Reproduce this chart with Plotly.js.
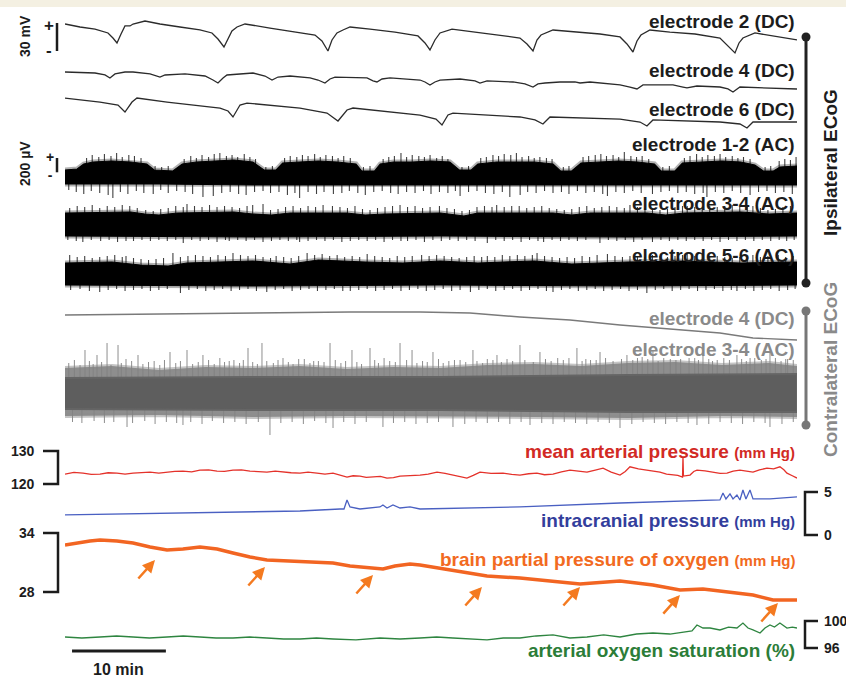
<!DOCTYPE html>
<html><head><meta charset="utf-8">
<script src="https://cdn.plot.ly/plotly-3.0.1.min.js"></script>
<style>html,body{margin:0;padding:0;background:#fff}#chart{width:846px;height:678px}</style>
</head><body><div id="chart"></div><script>
// ---------- DATA (time in minutes) ----------
// Ipsilateral DC (mV, relative)
const e2T=[0,1.6,3.2,4.58,5.11,5.54,5.97,6.39,6.93,7.25,8.52,10.12,12.25,14.38,15.66,16.3,16.94,17.37,17.79,18.33,19.18,21.84,24.51,26.64,27.38,28.02,28.45,28.98,29.62,30.37,32.5,35.16,37.61,38.36,38.89,39.42,39.96,41.24,43.69,46.35,48.48,49.23,49.87,50.29,50.72,52.0,54.34,57.01,59.14,59.88,60.52,60.95,61.37,62.33,64.46,67.13,69.79,70.64,71.39,71.82,72.24,73.52,75.65,78];
const e2V=[0,-3.2,-5.4,-9.6,-15.0,-20.3,-10.7,-2.1,-2.1,0,3.2,0,-3.2,-6.4,-9.6,-16.1,-24.6,-15.0,-7.5,-3.2,0,-4.3,-8.6,-11.8,-18.2,-28.9,-17.1,-9.6,-6.4,-3.2,-5.4,-8.6,-12.8,-20.3,-27.8,-17.1,-9.6,-5.4,-8.6,-11.8,-15.0,-21.4,-28.9,-17.1,-11.8,-6.4,-8.6,-10.7,-13.9,-21.4,-30.0,-18.2,-11.8,-6.4,-8.6,-10.7,-15.0,-23.5,-31.0,-20.3,-15.0,-9.6,-12.8,-17.1];
const e4T=[0,3.2,4.26,4.79,5.33,6.39,7.25,9.06,10.12,10.66,12.79,14.92,15.77,16.3,16.84,17.26,20.03,21.31,22.06,22.7,23.98,26.11,26.96,27.7,28.24,28.77,32.18,32.82,33.24,33.78,34.63,37.83,38.36,38.89,39.42,39.96,42.09,43.69,44.22,44.97,47.74,49.01,49.87,50.4,51.15,52.74,54.34,54.88,55.94,59.14,60.2,60.95,61.59,64.78,65.85,66.28,67.34,69.79,70.64,71.18,71.92,75.12,78];
const e4V=[0,-1.1,-3.2,-6.4,-2.1,0,0,-2.1,-5.4,-3.2,-2.1,-4.3,-8.6,-11.8,-6.4,-3.2,-1.1,-4.3,-8.6,-5.4,-4.3,-6.4,-8.6,-11.8,-7.5,-5.4,-6.4,-9.6,-10.7,-7.5,-6.4,-8.6,-10.7,-13.9,-10.7,-8.6,-7.5,-9.6,-11.8,-9.6,-10.7,-12.8,-16.1,-12.8,-11.8,-10.7,-10.7,-11.8,-10.7,-13.9,-16.1,-18.2,-13.9,-13.9,-16.1,-17.1,-15.0,-16.1,-18.2,-21.4,-16.1,-17.1,-18.2];
const e6T=[0,3.73,5.65,6.39,7.14,7.67,10.87,16.52,17.37,17.9,18.65,19.39,25.04,27.92,29.09,30.05,30.69,37.83,39.53,40.17,40.81,41.34,48.48,50.08,50.93,51.68,59.14,61.27,62.01,62.65,69.79,71.92,72.67,73.31,78];
const e6V=[0,-4.3,-7.5,-15.0,-4.3,0,-4.3,-10.7,-13.9,-20.3,-7.5,-5.4,-10.7,-16.1,-24.6,-12.8,-10.7,-18.2,-22.5,-28.9,-18.2,-16.1,-20.3,-23.5,-27.8,-20.3,-22.5,-25.7,-30.0,-23.5,-25.7,-27.8,-32.1,-25.7,-25.7];

// Ipsilateral AC (µV): envelope of the dense trace, plus [time, tip] of the excursions beyond it
const a12TopT=[0,1.3,2,3,5,7,8.7,9.5,11.5,12.5,14,16,18,20,21.2,22.5,23.2,25,27,29,31,31.6,33,33.6,35,37,39,41,42,43.3,44,46,48,50,52,52.8,54,55,57,59,61,62.8,63.5,65,65.8,68,70,72,73.5,74.4,75.5,76.2,78];
const a12Top=[84,98,168,196,210,196,168,84,70,168,196,210,224,196,84,84,182,196,210,196,168,70,70,168,196,196,210,196,84,84,168,196,196,196,168,70,70,182,196,210,196,168,70,70,182,196,210,196,154,70,70,126,140];
const a12BotT=[0,10,20,30,40,50,60,70,78];
const a12Bot=[-112,-112,-126,-126,-126,-126,-126,-126,-126];
const a12Up=[[2.3,252],[2.9,294],[3.6,266],[4.2,308],[4.9,280],[5.5,322],[6.1,266],[6.8,294],[7.4,280],[8.1,252],[9.6,140],[10.3,126],[11.0,140],
 [12.7,238],[13.4,280],[14.0,252],[14.6,294],[15.3,266],[15.9,308],[16.5,322],[17.2,280],[17.8,294],[18.4,266],[19.1,308],[19.7,266],[20.3,238],[21.4,126],[22.1,140],
 [23.4,252],[24.0,280],[24.7,266],[25.3,294],[25.9,280],[26.6,308],[27.2,266],[27.8,294],[28.5,280],[29.1,252],[29.7,280],[30.4,252],[31.8,126],[32.5,140],
 [33.9,238],[34.5,266],[35.1,280],[35.8,322],[36.4,266],[37.0,294],[37.7,280],[38.3,266],[38.9,294],[39.6,252],[40.2,280],[40.8,238],[42.3,126],[43.0,140],
 [44.3,252],[44.9,266],[45.6,294],[46.2,280],[46.8,308],[47.5,294],[48.1,322],[48.7,266],[49.4,280],[50.0,252],[50.6,266],[51.3,252],[51.9,238],[53.1,126],[53.7,140],
 [55.2,266],[55.8,280],[56.5,294],[57.1,308],[57.7,280],[58.4,294],[59.0,266],[59.6,336],[60.3,280],[60.9,266],[61.5,280],[62.2,238],[63.7,126],[64.4,140],
 [66.0,252],[66.6,280],[67.3,308],[67.9,266],[68.5,294],[69.2,280],[69.8,308],[70.4,266],[71.1,280],[71.7,252],[72.3,266],[73.0,238],[74.6,126],[75.2,140],
 [76.1,210],[76.7,238],[77.3,224],[77.9,266]];
const a12Dn=[[0.4,-196],[1.2,-224],[2.0,-252],[2.8,-210],[3.7,-238],[4.6,-266],[5.1,-308],[5.9,-224],[6.7,-252],[7.6,-210],[8.4,-238],[9.4,-252],[10.2,-196],[11.0,-238],[11.9,-210],
 [12.8,-224],[13.6,-252],[14.7,-294],[15.8,-280],[16.7,-238],[17.6,-224],[18.5,-252],[19.3,-266],[20.2,-224],[21.1,-210],[21.9,-238],[22.8,-224],[23.7,-266],[24.5,-238],[25.0,-308],
 [25.9,-224],[26.8,-252],[27.6,-224],[28.6,-252],[29.5,-238],[30.3,-210],[31.2,-238],[32.0,-266],[32.9,-224],[33.8,-210],[34.7,-238],[35.5,-252],[36.4,-224],[37.3,-238],[38.2,-210],
 [39.0,-252],[39.9,-224],[40.8,-238],[41.6,-210],[42.1,-280],[43.0,-224],[43.9,-210],[44.8,-238],[45.7,-252],[46.6,-224],[47.4,-294],[48.5,-266],[49.3,-224],[50.2,-238],[51.1,-210],
 [52.0,-238],[52.9,-224],[53.7,-252],[54.6,-210],[55.5,-238],[56.4,-224],[57.3,-252],[57.8,-280],[58.7,-224],[59.6,-238],[60.5,-210],[61.4,-238],[62.6,-252],[63.5,-224],[64.4,-210],
 [65.3,-238],[66.2,-224],[67.1,-252],[68.0,-238],[68.4,-294],[69.3,-224],[70.2,-238],[71.1,-210],[72.0,-238],[73.0,-266],[73.9,-224],[74.8,-210],[75.7,-238],[76.6,-224],[77.5,-252]];

const a34TopT=[0,7,8.5,10,12,18,20,22,24,30,32,34,40,42.5,44,52,54,56,62,64,66,72,75,78];
const a34Top=[154,168,140,126,154,168,140,126,154,154,126,140,154,112,154,154,126,154,154,126,154,168,140,154];
const a34BotT=[0,20,40,60,78];
const a34Bot=[-168,-182,-168,-182,-168];
const a34Up=[[0.5,224],[1.3,252],[2.1,238],[2.9,266],[3.7,224],[4.5,252],[5.3,238],[6.1,266],[6.9,252],[7.7,224],[8.6,196],[9.4,182],[10.2,210],[11.0,224],[11.8,252],[12.6,238],[13.0,280],
 [13.8,252],[14.6,238],[15.4,266],[16.2,238],[17.0,252],[17.8,238],[18.6,224],[19.4,252],[20.0,266],[21.1,280],[21.9,196],[22.7,210],[23.5,238],[24.3,252],[25.1,224],[25.9,252],
 [26.7,238],[27.5,266],[28.5,252],[29.3,238],[30.1,224],[30.9,252],[31.7,210],[32.5,196],[33.3,224],[34.1,238],[34.9,252],[35.7,266],[36.5,238],[37.3,252],[38.1,224],[38.9,238],
 [39.9,252],[40.7,224],[41.5,210],[42.3,182],[43.1,196],[43.9,238],[44.7,252],[45.5,238],[46.0,266],[46.8,238],[47.6,252],[48.4,252],[49.2,224],[50.0,238],[50.8,252],[51.6,224],
 [52.4,210],[53.2,196],[54.0,210],[54.8,238],[55.6,252],[56.4,224],[57.2,238],[58.0,252],[58.8,238],[59.6,224],[60.2,266],[61.0,238],[61.8,224],[62.6,210],[63.4,196],[64.2,210],
 [65.0,238],[65.8,252],[66.3,252],[67.1,238],[67.9,224],[68.7,252],[69.5,238],[70.3,252],[71.1,266],[71.9,238],[72.7,252],[73.3,252],[74.1,224],[74.9,196],[75.7,210],[76.5,238],[77.3,252]];
const a34Dn=[[0.3,-224],[1.2,-238],[1.9,-252],[2.8,-224],[3.8,-238],[4.7,-224],[5.6,-252],[6.5,-238],[7.3,-238],[8.2,-224],[9.1,-238],[10.0,-224],[10.9,-238],[11.8,-224],[12.6,-266],
 [13.5,-224],[14.4,-238],[15.3,-224],[16.2,-252],[17.1,-224],[17.5,-238],[18.4,-224],[19.3,-238],[20.2,-224],[21.1,-252],[22.0,-238],[22.9,-224],[23.8,-238],[24.7,-224],[25.0,-252],
 [25.9,-238],[26.8,-224],[27.7,-238],[28.6,-224],[29.5,-252],[30.4,-238],[31.3,-224],[32.2,-238],[33.1,-224],[34.0,-252],[34.9,-224],[35.8,-238],[36.5,-238],[37.4,-224],[38.3,-252],
 [39.2,-224],[40.1,-238],[41.0,-224],[41.9,-238],[42.8,-224],[43.7,-238],[45.0,-266],[45.9,-224],[46.8,-238],[47.7,-224],[48.6,-252],[49.5,-224],[50.4,-238],[51.0,-252],[51.9,-224],
 [52.8,-238],[53.7,-224],[54.6,-238],[55.5,-224],[57.0,-266],[57.9,-224],[58.8,-238],[59.7,-224],[60.6,-252],[61.5,-224],[62.6,-252],[63.5,-224],[64.4,-238],[65.3,-224],[66.2,-238],
 [67.1,-224],[68.0,-238],[68.9,-224],[69.8,-252],[70.7,-224],[71.6,-238],[72.5,-224],[73.4,-238],[74.3,-224],[75.2,-238],[76.1,-224],[76.9,-238],[77.7,-224]];

const a56TopT=[0,5,8,11,13,20,24,27,32,36,40,44,50,54,60,66,72,78];
const a56Top=[154,168,126,112,154,182,140,196,168,154,182,154,182,140,168,182,154,168];
const a56BotT=[0,20,40,60,78];
const a56Bot=[-154,-168,-154,-168,-154];
const a56Up=[[0.5,266],[1.3,238],[2.1,252],[2.9,224],[3.7,238],[4.5,252],[5.3,266],[6.1,238],[6.5,252],[7.3,224],[8.1,210],[8.9,196],[9.7,210],[10.5,224],[11.5,294],[12.3,238],
 [13.1,252],[13.9,266],[14.7,252],[15.5,238],[16.3,266],[17.1,252],[17.9,294],[18.7,266],[19.5,252],[20.3,266],[21.1,238],[21.9,224],[22.5,252],[23.3,238],[24.1,224],[24.9,252],
 [25.8,294],[26.6,266],[27.4,280],[28.2,252],[29.0,266],[29.8,238],[30.6,252],[31.4,238],[32.2,280],[33.0,252],[33.8,238],[34.6,224],[35.4,252],[36.2,238],[37.0,252],[38.0,266],
 [38.8,252],[39.6,266],[40.4,252],[41.2,238],[42.0,224],[42.8,238],[43.6,252],[44.4,238],[45.0,252],[45.8,238],[46.6,266],[47.4,252],[48.2,266],[49.0,252],[49.8,266],[50.3,294],
 [51.1,252],[51.9,238],[52.7,224],[53.5,238],[54.3,224],[55.1,252],[55.9,238],[56.7,266],[57.8,280],[58.6,252],[59.4,238],[60.2,252],[61.0,252],[61.8,238],[62.6,266],[63.4,252],
 [64.2,238],[65.0,252],[65.8,266],[66.3,280],[67.1,252],[67.9,266],[68.7,238],[69.5,252],[70.3,238],[71.1,224],[71.9,238],[72.7,252],[73.3,266],[74.1,238],[74.9,252],[76.0,266],[76.8,238],[77.6,252]];
const a56Dn=[[0.6,-224],[1.6,-210],[2.6,-238],[3.7,-252],[4.6,-224],[5.5,-210],[6.4,-238],[7.3,-224],[8.2,-210],[9.1,-238],[10.0,-224],[10.9,-210],[12.3,-266],[13.2,-224],[14.1,-210],
 [15.0,-238],[15.9,-224],[16.8,-210],[17.7,-238],[18.6,-224],[19.5,-210],[20.4,-238],[21.5,-252],[22.4,-224],[23.3,-210],[24.2,-238],[25.1,-224],[26.0,-210],[26.9,-238],[27.8,-224],
 [28.7,-210],[29.6,-238],[30.4,-238],[31.3,-224],[32.2,-210],[33.1,-238],[34.0,-224],[34.9,-210],[35.8,-238],[36.7,-224],[37.6,-210],[38.5,-238],[39.4,-224],[40.3,-210],[41.2,-238],
 [42.1,-224],[43.2,-252],[44.1,-224],[45.0,-210],[45.9,-238],[46.8,-224],[47.7,-210],[48.6,-238],[49.5,-224],[50.4,-210],[51.3,-238],[52.0,-252],[52.9,-224],[53.8,-210],[54.7,-238],
 [55.6,-224],[56.5,-210],[57.4,-238],[58.3,-224],[59.2,-210],[60.1,-238],[61.0,-224],[62.0,-266],[62.9,-224],[63.8,-210],[64.7,-238],[65.6,-224],[66.5,-210],[67.4,-238],[68.3,-224],
 [69.2,-210],[70.1,-238],[71.0,-224],[71.6,-238],[72.5,-210],[73.4,-238],[74.3,-224],[75.2,-210],[76.1,-238],[77.0,-224],[77.8,-210]];

// Contralateral
const cDcT=[0,9.06,19.71,30.37,37.83,43.15,48.48,53.81,59.14,64.46,69.79,73.31,75.65,78];
const cDcV=[0,1.1,2.1,3.2,3.2,2.1,-2.1,-5.4,-10.7,-15.0,-19.3,-24.6,-25.7,-26.8];
const cAcCoreT=[0,20,40,60,78];
const cAcCoreTop=[224,238,238,266,280];
const cAcCoreBot=[-210,-224,-224,-252,-252];
const cAcFuzzTopT=[0,5,10,15,20,25,30,35,40,45,50,55,60,65,70,75,78];
const cAcFuzzTop=[364,392,336,378,364,392,350,378,364,406,420,392,434,448,406,434,392];
const cAcFuzzBotT=[0,10,20,30,40,50,60,70,78];
const cAcFuzzBot=[-308,-294,-322,-308,-308,-322,-336,-308,-322];
const cAcUp=[[2.13,616],[3.41,546],[4.48,714],[5.65,686],[7.78,546],[11.19,588],[13.0,616],[14.7,546],[19.5,644],[20.99,714],[23.23,504],[28.24,714],[30.58,616],[32.5,644],
 [35.7,714],[36.98,616],[39.21,588],[43.47,616],[46.03,546],[48.48,686],[50.61,588],[54.55,644],[57.01,588],[59.88,546],[62.65,616],[67.98,574],[71.6,546],[75.12,588],
 [1.0,476],[6.5,490],[9.5,462],[16.5,504],[18.0,476],[25.5,490],[27.0,462],[34.0,504],[41.5,476],[45.0,490],[52.5,504],[56.0,476],[61.5,518],[64.5,490],[66.5,504],[69.5,476],[73.5,504],[77.0,490],
 [0.4,434],[1.6,406],[2.6,462],[3.0,420],[3.9,448],[4.9,406],[6.0,434],[7.1,462],[8.3,420],[8.9,448],[10.1,406],[10.6,476],[11.8,434],[12.3,462],[13.6,420],[14.2,448],[15.3,476],
 [15.9,420],[17.0,448],[17.5,462],[18.6,434],[19.0,476],[20.0,448],[20.5,420],[21.5,462],[22.2,434],[22.7,476],[23.8,448],[24.3,420],[24.9,490],[26.1,434],[26.5,462],[27.6,448],
 [28.8,476],[29.4,434],[29.9,462],[31.1,448],[31.6,420],[33.0,476],[33.4,434],[34.6,462],[35.2,448],[36.4,476],[37.5,434],[38.1,462],[38.6,448],[39.8,490],[40.3,434],[40.9,462],
 [42.1,476],[42.7,448],[43.9,462],[44.5,434],[45.6,476],[46.5,448],[47.1,490],[47.7,462],[49.0,476],[49.9,448],[51.2,490],[51.8,462],[53.1,476],[53.7,504],[55.1,462],[55.5,490],
 [56.6,476],[57.6,504],[58.4,462],[59.3,490],[60.5,476],[61.0,504],[62.1,490],[63.2,462],[63.8,504],[65.1,476],[65.6,490],[67.1,504],[67.5,476],[68.6,490],[69.0,462],[70.2,504],
 [70.8,476],[72.1,490],[72.6,462],[73.0,504],[74.2,476],[74.7,490],[75.7,504],[76.3,462],[76.8,490],[77.6,476]];
const cAcDn=[[6.61,-462],[12.57,-434],[21.84,-574],[28.56,-476],[33.88,-462],[41.34,-462],[49.55,-434],[59.14,-476],[67.34,-434],[75.12,-462],
 [0.8,-392],[1.8,-406],[3.1,-378],[4.2,-406],[5.2,-392],[7.2,-406],[8.5,-378],[9.6,-420],[10.8,-392],[11.9,-406],[13.4,-392],[14.6,-420],[15.7,-378],[16.9,-406],[18.1,-392],
 [19.3,-420],[20.6,-392],[23.0,-406],[24.2,-392],[25.4,-420],[26.6,-378],[27.8,-406],[29.7,-392],[30.9,-420],[32.1,-392],[35.0,-406],[36.2,-392],[37.4,-420],[38.6,-406],[39.8,-392],
 [42.6,-420],[43.8,-392],[45.0,-406],[46.2,-392],[47.4,-420],[48.6,-392],[50.8,-406],[52.0,-420],[53.2,-392],[54.4,-406],[55.6,-420],[56.8,-392],[58.0,-406],[60.4,-420],[61.6,-392],
 [62.8,-406],[64.0,-420],[65.2,-392],[66.4,-406],[68.6,-420],[69.8,-392],[71.0,-406],[72.2,-420],[73.4,-392],[74.6,-406],[76.4,-420],[77.6,-392]];

// Systemic / tissue variables: [minute, value]
const mapData=[[0,123.0],[0.95,123.5],[1.92,123.3],[2.8,122.9],[3.73,123.0],[4.6,123.4],[5.54,123.3],[6.4,123.0],[7.25,123.3],[8.1,123.5],[9.06,123.6],[10.0,123.3],[10.87,123.6],[11.7,123.8],
 [12.57,123.9],[13.5,123.7],[14.38,124.2],[15.3,124.3],[16.2,123.9],[17.0,123.8],[17.9,124.2],[18.8,124.3],[19.71,123.9],[20.6,123.7],[21.52,123.6],[22.4,123.9],[23.23,123.6],[24.1,123.4],
 [25.04,123.3],[25.9,123.6],[26.85,123.3],[27.7,123.0],[28.56,123.3],[29.3,122.8],[30.05,122.1],[30.7,122.5],[31.43,122.4],[32.1,122.0],[32.82,122.1],[33.6,122.3],[34.31,121.8],[35.0,121.9],
 [35.7,122.4],[36.8,122.5],[37.83,122.7],[38.7,123.0],[39.64,123.6],[40.5,123.2],[41.34,122.7],[42.1,122.3],[42.83,121.8],[43.5,122.6],[44.22,123.6],[45.4,123.2],[46.67,123.3],[47.6,122.9],
 [48.48,122.7],[49.4,123.1],[50.29,123.3],[51.1,122.8],[52.0,123.0],[52.9,123.7],[53.81,124.2],[54.7,123.9],[55.62,123.6],[56.5,124.2],[57.33,124.8],[58.2,123.6],[59.14,122.7],[59.7,123.8],
 [60.2,125.2],[61.1,124.6],[62.01,124.2],[62.7,123.9],[63.4,123.6],[64.1,123.0],[64.78,122.7],[65.3,122.6],[65.8,122.1],[65.85,128.2],[65.9,122.4],[66.6,122.7],[67.0,123.8],[67.34,124.2],
 [68.2,124.0],[69.05,123.6],[69.8,123.2],[70.54,123.3],[71.2,123.9],[71.92,124.2],[72.6,123.8],[73.31,123.6],[74.0,124.3],[74.8,124.8],[75.5,124.6],[76.18,125.2],[76.6,124.3],[76.93,123.3],
 [77.5,122.5],[78.0,121.8]];
const icpT=[0,7.25,17.9,25.04,29.3,29.73,30.05,30.37,31.43,32.82,33.56,33.88,34.31,34.95,35.7,36.76,37.83,48.48,59.14,69.79,70.11,70.43,70.86,71.18,71.6,71.92,72.24,72.56,72.99,73.31,75.12,78];
const icpV=[2.33,2.44,2.67,2.79,3.02,3.02,4.07,3.26,3.02,3.14,3.26,3.49,3.14,3.49,3.14,3.26,3.02,3.26,3.72,4.07,4.88,4.19,4.77,4.19,4.65,4.07,5.23,4.19,5.23,4.19,4.19,4.42];
const pbtT=[0,1.07,2.66,3.73,5.54,7.25,9.06,10.87,12.57,14.38,16.2,17.9,19.71,21.52,23.44,25.04,28.56,30.37,32.18,33.88,35.16,36.76,37.83,40.49,42.62,44.97,48.48,52.0,54.88,56.26,59.14,62.65,65.53,67.98,70.86,73.31,75.44,78];
const pbtV=[32.78,32.98,33.19,33.29,33.19,32.98,32.58,32.27,32.37,32.58,32.37,31.97,31.56,31.25,31.15,31.05,30.95,30.64,30.44,30.34,30.64,30.85,30.74,30.34,29.93,29.63,29.42,29.12,28.81,28.91,29.12,28.71,28.2,28.3,28.0,27.69,27.18,27.18];
const arrowT=[9.59,21.31,32.82,44.43,54.88,65.53,75.97];
const arrowV=[31.25,30.54,29.73,28.51,28.51,27.69,26.88];
const saData=[[0,97.63],[1.8,97.48],[3.73,97.63],[5.5,97.78],[7.25,97.63],[9.0,97.48],[10.87,97.63],[12.6,97.78],[14.38,97.63],[16.1,97.48],[17.9,97.48],[19.7,97.63],[21.52,97.48],
 [23.3,97.33],[25.04,97.33],[26.8,97.48],[28.56,97.33],[31.0,97.19],[33.56,97.48],[35.7,97.33],[37.83,97.48],[39.6,97.63],[41.34,97.48],[43.1,97.33],[44.97,97.19],[46.7,97.48],
 [48.48,97.48],[50.2,97.78],[52.0,97.93],[53.8,97.48],[55.62,97.63],[57.4,97.93],[59.14,97.63],[60.9,98.07],[62.65,98.22],[64.46,98.07],[66.28,98.37],[66.81,98.52],[67.34,99.41],
 [67.98,98.96],[68.73,98.96],[69.79,98.67],[70.7,99.1],[71.6,98.96],[72.24,99.7],[72.78,98.96],[73.31,98.67],[74.06,98.22],[74.59,98.96],[75.12,99.41],[75.6,99.1],[76.18,99.7],
 [76.93,98.96],[77.5,99.1],[78,98.96]];

const scaleBarMin=10;

// ---------- LAYOUT HELPERS ----------
const W=846,H=678,L=65,R=797;
const xp=px=>(px-L)/(R-L);
const yp=py=>1-py/H;
const FONT='"Liberation Sans", Arial, Helvetica, sans-serif';
const col=(a,i)=>a.map(p=>p[i]);
function yax(top,bot,lo,hi){return {domain:[yp(bot),yp(top)],range:[lo,hi],visible:false,fixedrange:true,anchor:'x'};}
function line(x,y,ax,color,width){return {type:'scatter',mode:'lines',x:x,y:y,xaxis:'x',yaxis:ax,line:{color:color,width:width},hoverinfo:'skip',showlegend:false};}
function band(tT,top,bT,bot,ax,fill,lc,lw){
  const tr=line(tT.concat(bT.slice().reverse()),top.concat(bot.slice().reverse()),ax,lc,lw);
  tr.fill='toself';tr.fillcolor=fill;return tr;}
function peaks(list,ax,color,w){const x=[],y=[];list.forEach(p=>{x.push(p[0],p[0],null);y.push(0,p[1],null);});return line(x,y,ax,color,w);}
function acGroup(tT,top,bT,bot,up,dn,ax){
  return [
    band(tT,top,bT,bot,ax,'rgba(0,0,0,0)','rgba(0,0,0,0.3)',5),
    peaks(up.concat(dn),ax,'rgba(0,0,0,0.75)',1.1),
    band(tT,top,bT,bot,ax,'#000','#000',1.2)
  ];
}

const traces=[
  line(e2T,e2V,'y','#2b2b2b',1.3),
  line(e4T,e4V,'y2','#2b2b2b',1.3),
  line(e6T,e6V,'y3','#2b2b2b',1.3),
  ...acGroup(a12TopT,a12Top,a12BotT,a12Bot,a12Up,a12Dn,'y4'),
  ...acGroup(a34TopT,a34Top,a34BotT,a34Bot,a34Up,a34Dn,'y5'),
  ...acGroup(a56TopT,a56Top,a56BotT,a56Bot,a56Up,a56Dn,'y6'),
  line(cDcT,cDcV,'y7','#7a7a7a',1.4),
  band(cAcFuzzTopT,cAcFuzzTop,cAcFuzzBotT,cAcFuzzBot,'y8','#8e8e8e','rgba(140,140,140,0.5)',4),
  peaks(cAcUp.concat(cAcDn),'y8','rgba(130,130,130,0.9)',1),
  band(cAcCoreT,cAcCoreTop,cAcCoreT,cAcCoreBot,'y8','#5e5e5e','#656565',2),
  line(col(mapData,0),col(mapData,1),'y9','#e4322b',1.3),
  line(icpT,icpV,'y10','#4a60c2',1.3),
  line(pbtT,pbtV,'y11','#f26522',3.5),
  line(col(saData,0),col(saData,1),'y12','#2e8540',1.3)
];

const K='#1c1c1c', G='#8a8a8a';
const shapes=[
  {type:'rect',xref:'paper',yref:'paper',x0:xp(0),x1:xp(W),y0:yp(7),y1:1,fillcolor:'#f4f0e2',line:{width:0},layer:'below'},
  {type:'line',xref:'paper',yref:'paper',x0:xp(806),x1:xp(806),y0:yp(37),y1:yp(283),line:{color:'#222',width:3}},
  {type:'circle',xref:'paper',yref:'paper',x0:xp(801.5),x1:xp(810.5),y0:yp(41.5),y1:yp(32.5),fillcolor:'#222',line:{width:0}},
  {type:'circle',xref:'paper',yref:'paper',x0:xp(801.5),x1:xp(810.5),y0:yp(287.5),y1:yp(278.5),fillcolor:'#222',line:{width:0}},
  {type:'line',xref:'paper',yref:'paper',x0:xp(806),x1:xp(806),y0:yp(311),y1:yp(425),line:{color:'#777',width:3}},
  {type:'circle',xref:'paper',yref:'paper',x0:xp(801.5),x1:xp(810.5),y0:yp(315.5),y1:yp(306.5),fillcolor:'#777',line:{width:0}},
  {type:'circle',xref:'paper',yref:'paper',x0:xp(801.5),x1:xp(810.5),y0:yp(429.5),y1:yp(420.5),fillcolor:'#777',line:{width:0}},
  // 30 mV and 200 µV scale bars
  {type:'line',xref:'paper',yref:'y',x0:xp(57),x1:xp(57),y0:1.1,y1:1.1-30,line:{color:K,width:2.5}},
  {type:'line',xref:'paper',yref:'y4',x0:xp(57),x1:xp(57),y0:252,y1:52,line:{color:K,width:2.5}},
  // brackets
  {type:'path',xref:'paper',yref:'y9',path:`M${xp(43)},130 L${xp(58)},130 L${xp(58)},120 L${xp(43)},120`,line:{color:K,width:2.5}},
  {type:'path',xref:'paper',yref:'y10',path:`M${xp(818)},5 L${xp(805)},5 L${xp(805)},0 L${xp(818)},0`,line:{color:K,width:2.5}},
  {type:'path',xref:'paper',yref:'y11',path:`M${xp(43)},34 L${xp(58)},34 L${xp(58)},28 L${xp(43)},28`,line:{color:K,width:2.5}},
  {type:'path',xref:'paper',yref:'y12',path:`M${xp(818)},100 L${xp(805)},100 L${xp(805)},96 L${xp(818)},96`,line:{color:K,width:2.5}},
  // 10 min bar
  {type:'line',xref:'x',yref:'paper',x0:0.75,x1:0.75+scaleBarMin,y0:yp(651),y1:yp(651),line:{color:K,width:3}}
];

function lab(text,px,py,color,size,anchor,angle){
  return {xref:'paper',yref:'paper',x:xp(px),y:yp(py),text:text,showarrow:false,xanchor:anchor||'right',yanchor:'middle',
    textangle:angle||0,font:{family:FONT,size:size||19,color:color,weight:700}};}
function tick(text,px,ax,val,anchor){
  return {xref:'paper',yref:ax,x:xp(px),y:val,text:text,showarrow:false,xanchor:anchor,yanchor:'middle',
    font:{family:FONT,size:14,color:K,weight:700}};}
const unit=s=>`<span style="font-size:15px">${s}</span>`;
const annotations=[
  lab('electrode 2 (DC)',797,21,K),
  lab('electrode 4 (DC)',797,71,K),
  lab('electrode 6 (DC)',797,110,K),
  lab('electrode 1-2 (AC)',797,145,K),
  lab('electrode 3-4 (AC)',797,203,K),
  lab('electrode 5-6 (AC)',797,255,K),
  lab('electrode 4 (DC)',797,318,G),
  lab('electrode 3-4 (AC)',797,350,G),
  lab('mean arterial pressure '+unit('(mm Hg)'),797,451,'#d22a24'),
  lab('intracranial pressure '+unit('(mm Hg)'),797,520,'#333e9c'),
  lab('brain partial pressure of oxygen '+unit('(mm Hg)'),797,559,'#f26a21'),
  lab('arterial oxygen saturation (%)',797,650,'#2c7d38'),
  lab('Ipsilateral ECoG',830,163,K,19,'center',-90),
  lab('Contralateral ECoG',830,370,G,19,'center',-90),
  lab('30 mV',25,36,K,14,'center',-90),
  lab('200 µV',25,164,K,14,'center',-90),
  lab('+',49,25,K,17,'center'),
  lab('-',49,50,K,17,'center'),
  lab('+<br>-',50,166,K,14,'center'),
  lab('10 min',118,669,K,16,'center'),
  tick('130',37,'y9',130,'right'),
  tick('120',37,'y9',120,'right'),
  tick('34',37,'y11',34,'right'),
  tick('28',37,'y11',28,'right'),
  tick('5',822,'y10',5,'left'),
  tick('0',822,'y10',0,'left'),
  tick('100',822,'y12',100,'left'),
  tick('96',822,'y12',96,'left')
];
arrowT.forEach((t,i)=>annotations.push({xref:'x',yref:'y11',x:t,y:arrowV[i],ax:-18,ay:20,text:'',showarrow:true,
  arrowhead:2,arrowsize:1,arrowwidth:2.5,arrowcolor:'#f47a20'}));

const layout={width:W,height:H,margin:{l:L,r:W-R,t:0,b:0},paper_bgcolor:'#fff',plot_bgcolor:'rgba(0,0,0,0)',
  font:{family:FONT},showlegend:false,
  xaxis:{domain:[0,1],range:[0,78],visible:false,fixedrange:true,anchor:'y'},
  yaxis:yax(10,62,-40.7,15.0),
  yaxis2:yax(62,100,-30.0,10.7),
  yaxis3:yax(90,135,-39.6,8.6),
  yaxis4:yax(140,210,-476,504),
  yaxis5:yax(195,255,-434,406),
  yaxis6:yax(245,300,-364,406),
  yaxis7:yax(300,350,-37.45,16.05),
  yaxis8:yax(335,445,-714,826),
  yaxis9:yax(440,490,118.18,133.33),
  yaxis10:yax(485,540,-0.58,5.81),
  yaxis11:yax(520,615,25.66,35.32),
  yaxis12:yax(610,660,94.22,101.63),
  shapes:shapes,annotations:annotations};
Plotly.newPlot('chart',traces,layout,{staticPlot:true,displayModeBar:false});
</script></body></html>
